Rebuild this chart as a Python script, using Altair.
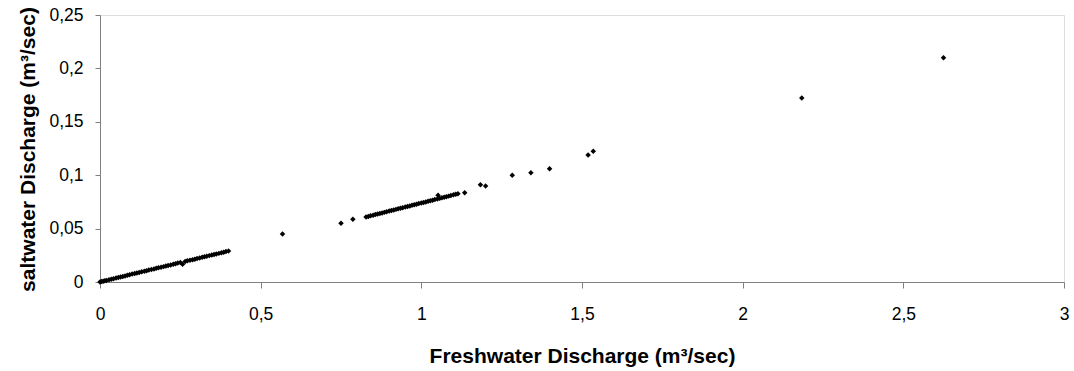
import altair as alt
import pandas as pd

# Freshwater discharge (m3/sec) and saltwater discharge (m3/sec)
fresh_low = [0.0, 0.005, 0.01, 0.015, 0.02, 0.028, 0.035, 0.042, 0.05, 0.057, 0.064, 0.071,
             0.078, 0.085, 0.092, 0.1, 0.108, 0.115, 0.122, 0.13, 0.138, 0.145, 0.152, 0.16,
             0.168, 0.175, 0.182, 0.19, 0.198, 0.205, 0.212, 0.22, 0.228, 0.235, 0.242, 0.25,
             0.257, 0.265, 0.272, 0.28, 0.288, 0.295, 0.302, 0.31, 0.318, 0.325, 0.332, 0.34,
             0.348, 0.355, 0.362, 0.37, 0.378, 0.385, 0.392, 0.4]
salt_low = [0.0, 0.0004, 0.0008, 0.0011, 0.0015, 0.0021, 0.0026, 0.0031, 0.0037, 0.0042, 0.0047, 0.0052,
            0.0057, 0.0063, 0.0068, 0.0074, 0.0079, 0.0085, 0.0090, 0.0095, 0.0101, 0.0106, 0.0112, 0.0117,
            0.0122, 0.0128, 0.0133, 0.0139, 0.0144, 0.0149, 0.0155, 0.0160, 0.0166, 0.0171, 0.0177, 0.0182,
            0.0166, 0.0193, 0.0198, 0.0204, 0.0209, 0.0214, 0.0220, 0.0225, 0.0231, 0.0236, 0.0241, 0.0247,
            0.0252, 0.0258, 0.0263, 0.0268, 0.0274, 0.0279, 0.0285, 0.0290]

fresh_mid = [0.828, 0.835, 0.842, 0.85, 0.857, 0.864, 0.871, 0.878, 0.885, 0.892, 0.9, 0.907,
             0.914, 0.921, 0.928, 0.935, 0.942, 0.95, 0.957, 0.964, 0.971, 0.978, 0.985, 0.992,
             1.0, 1.007, 1.014, 1.021, 1.028, 1.035, 1.042, 1.05, 1.052, 1.057, 1.064, 1.071,
             1.078, 1.085, 1.092, 1.1, 1.107, 1.114]
salt_mid = [0.0609, 0.0614, 0.0620, 0.0626, 0.0631, 0.0636, 0.0642, 0.0647, 0.0652, 0.0658, 0.0664, 0.0669,
            0.0674, 0.0680, 0.0685, 0.0690, 0.0696, 0.0702, 0.0707, 0.0712, 0.0718, 0.0723, 0.0728, 0.0734,
            0.0740, 0.0745, 0.0750, 0.0756, 0.0761, 0.0766, 0.0772, 0.0778, 0.0812, 0.0783, 0.0788, 0.0794,
            0.0799, 0.0804, 0.0810, 0.0816, 0.0821, 0.0827]

fresh_iso = [0.568, 0.75, 0.787, 1.135, 1.184, 1.2, 1.283, 1.341, 1.399, 1.519, 1.535, 2.184, 2.625]
salt_iso = [0.0449, 0.055, 0.0587, 0.0836, 0.0911, 0.0899, 0.0999, 0.1024, 0.106, 0.119, 0.1224, 0.1723, 0.21]

x_ticks = [0, 0.5, 1, 1.5, 2, 2.5, 3]
y_ticks = [0, 0.05, 0.1, 0.15, 0.2, 0.25]

df = pd.DataFrame({
    "fresh": fresh_low + fresh_mid + fresh_iso,
    "salt": salt_low + salt_mid + salt_iso,
})

label_expr = "replace(toString(datum.value), '.', ',')"

chart = alt.Chart(df).mark_point(
    shape="diamond", filled=True, color="black", size=30, opacity=1
).encode(
    x=alt.X("fresh:Q",
            scale=alt.Scale(domain=[0, 3], nice=False, zero=True),
            axis=alt.Axis(values=x_ticks, labelExpr=label_expr, grid=False,
                          title="Freshwater Discharge (m³/sec)",
                          titleFontSize=21, titleFontWeight="bold", titleFont="Liberation Sans",
                          titleColor="black", titleBaseline="alphabetic", titleY=80,
                          labelFont="Liberation Sans", labelFontSize=17.5, labelColor="black",
                          labelPadding=17, tickSize=6, domainColor="#808080", tickColor="#808080",
                          labelFlush=False)),
    y=alt.Y("salt:Q",
            scale=alt.Scale(domain=[0, 0.25], nice=False),
            axis=alt.Axis(values=y_ticks, labelExpr=label_expr, grid=False,
                          title="saltwater Discharge (m³/sec)",
                          titleFontSize=21, titleFontWeight="bold", titleFont="Liberation Sans",
                          titleColor="black", titleBaseline="alphabetic", titleX=-66, titleY=134,
                          labelFont="Liberation Sans", labelFontSize=17.5, labelColor="black",
                          labelPadding=12, tickSize=5, domainColor="#808080", tickColor="#808080",
                          labelFlush=False)),
).properties(
    width=964, height=267,
    autosize=alt.AutoSizeParams(type="none"),
    padding={"left": 100, "top": 15, "right": 10, "bottom": 89},
).configure_view(stroke=None).configure(background="white")

chart.save("out.html", embed_options={"renderer": "svg", "actions": False})
